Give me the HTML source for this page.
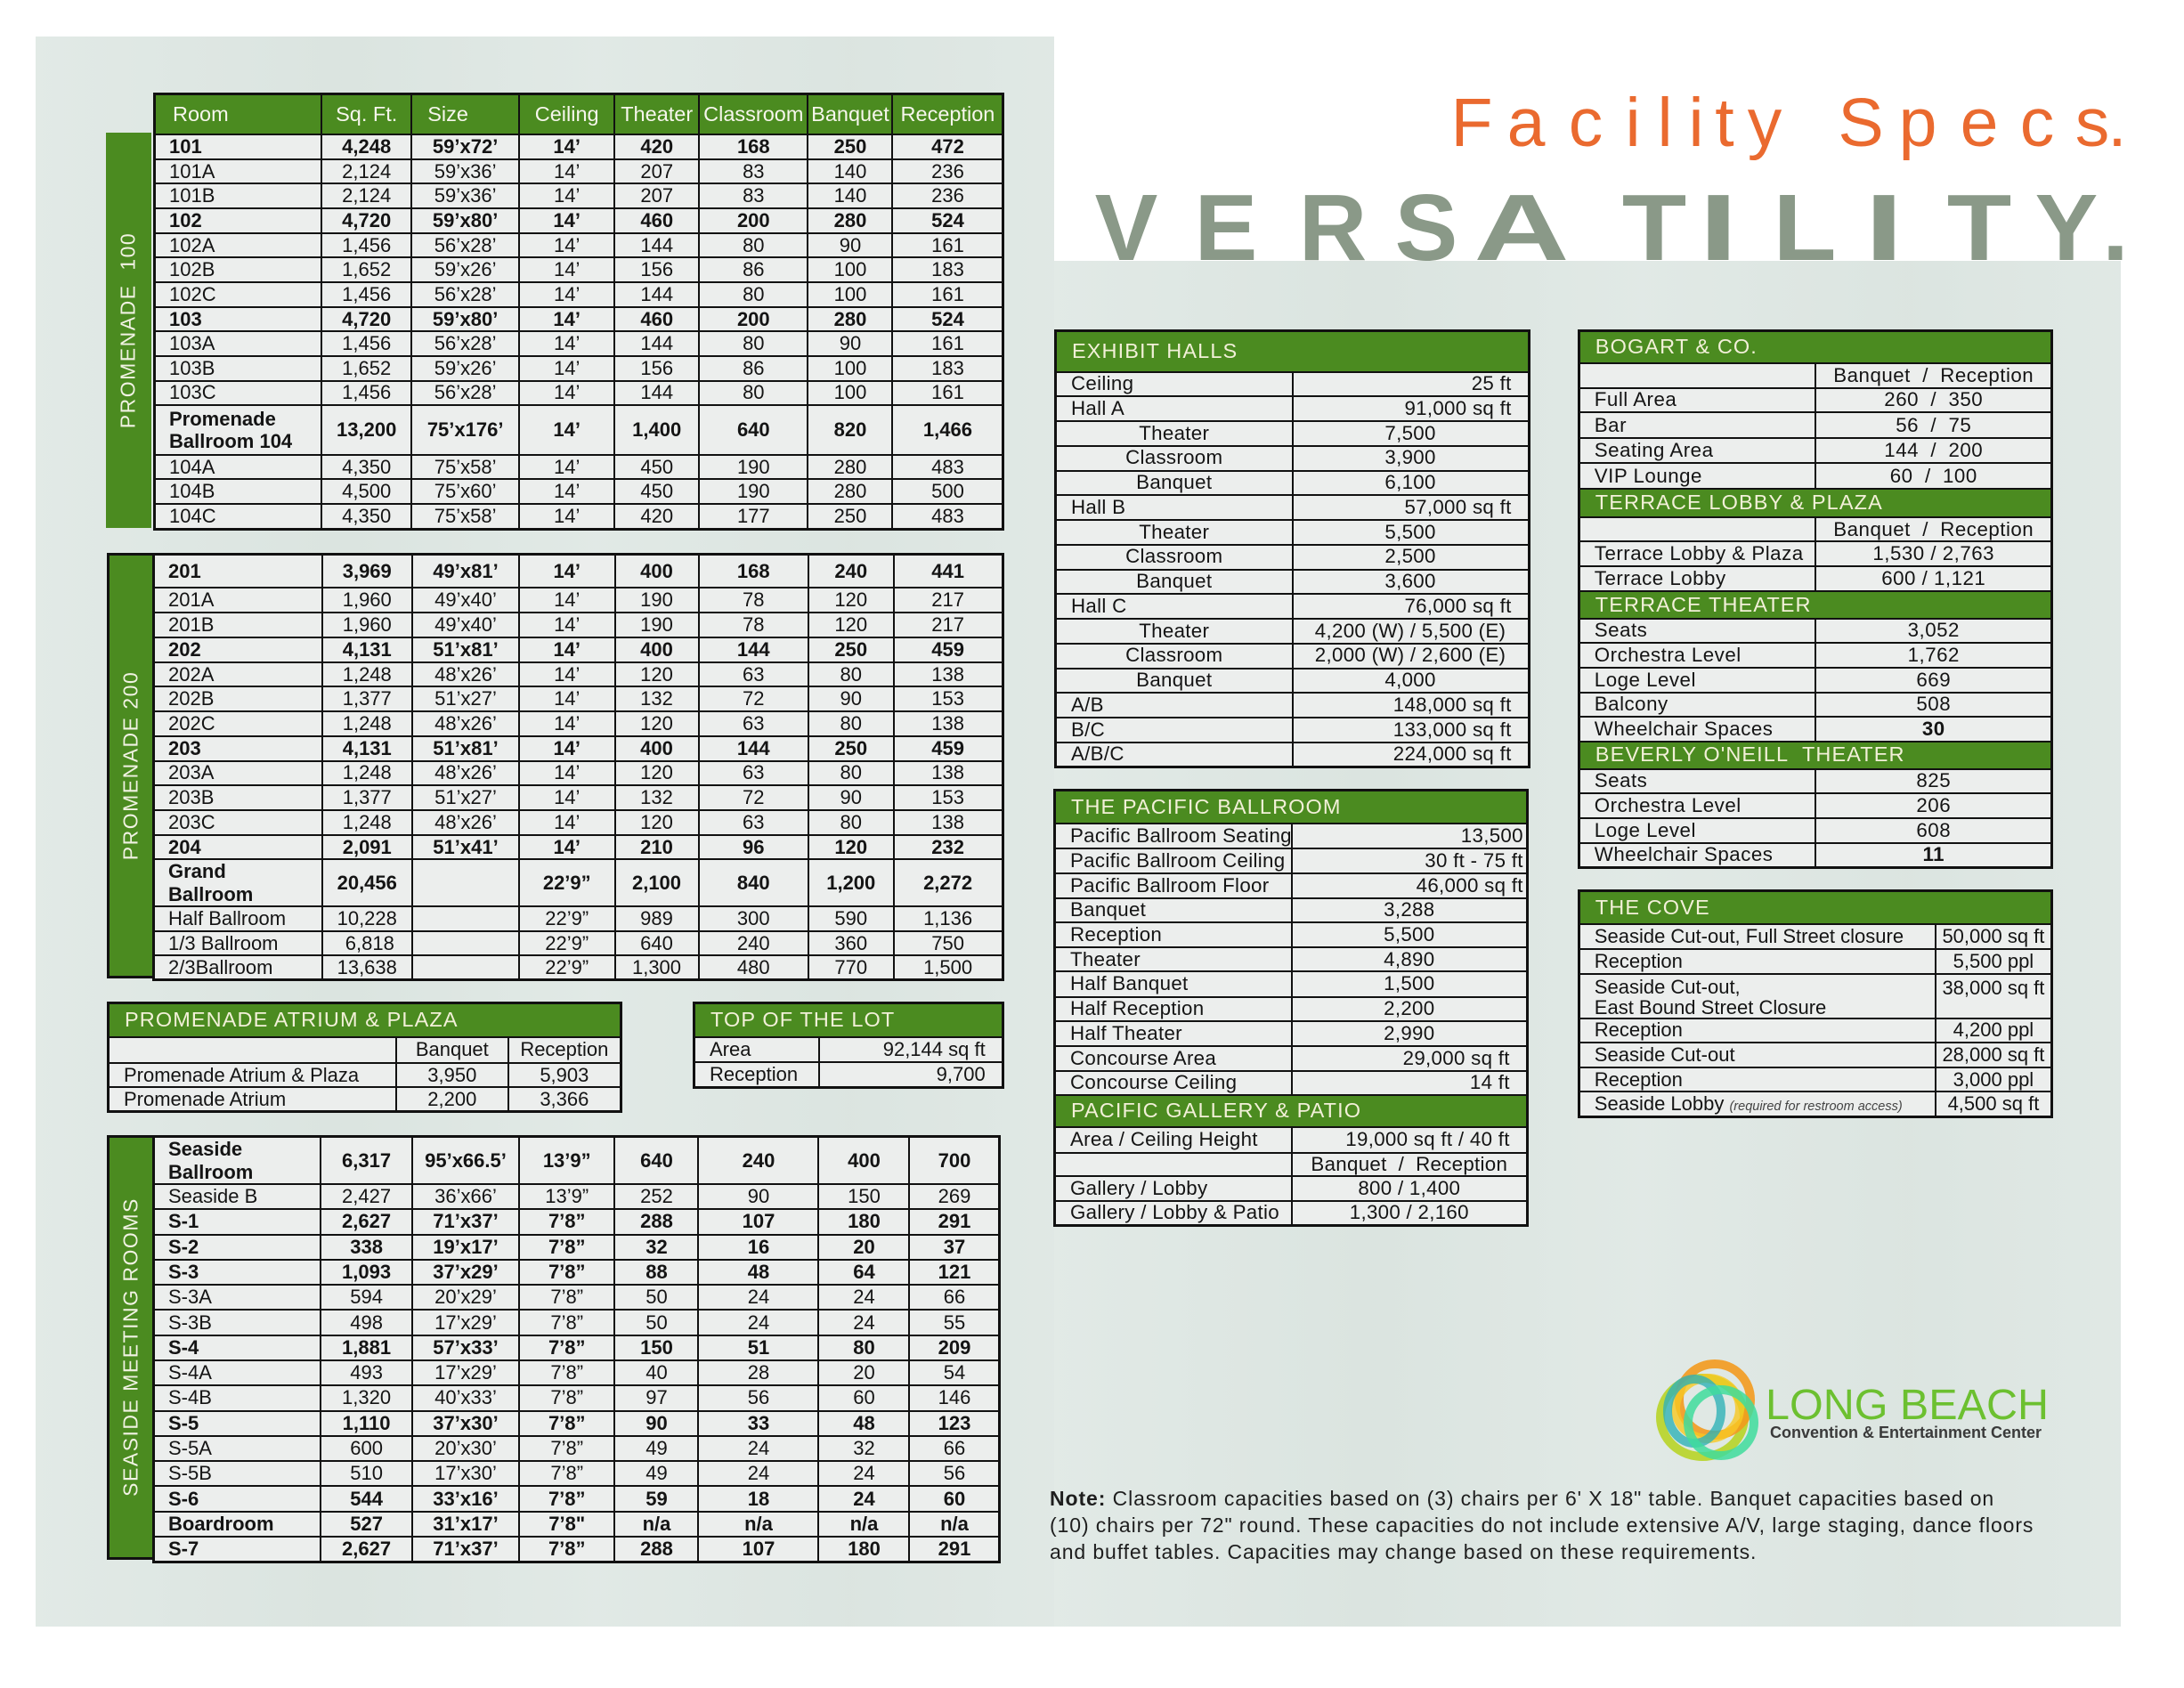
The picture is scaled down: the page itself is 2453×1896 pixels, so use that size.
<!DOCTYPE html>
<html><head><meta charset="utf-8">
<style>
html,body{margin:0;padding:0;}
body{width:2453px;height:1896px;position:relative;overflow:hidden;background:#ffffff;font-family:"Liberation Sans",Arial,sans-serif;}
.pA{position:absolute;left:40px;top:41px;width:1144px;height:1786px;background:#dee7e3;}
.pB{position:absolute;left:1184px;top:293px;width:1198px;height:1534px;background:#dee7e3;}
.tex{position:absolute;background:linear-gradient(90deg,rgba(255,255,255,0.18),rgba(200,212,206,0.25) 30%,rgba(255,255,255,0.15) 55%,rgba(205,215,210,0.25) 80%,rgba(255,255,255,0.1));}
.ch{position:absolute;line-height:1;white-space:pre;display:inline-block;transform:translateX(-50%);}
.fs{font-size:77px;color:#ea6a2f;top:99.8px;}
.vs{font-size:106px;color:#8a9988;font-weight:bold;top:203.3px;}
table.t{position:absolute;border-collapse:collapse;table-layout:fixed;color:#141414;border:3px solid #111;font-family:"Liberation Sans",Arial,sans-serif;}
table.t td{border:2px solid #111;background:#eceeed;padding:0;white-space:nowrap;overflow:hidden;text-align:center;line-height:1;}
table.t td.l{text-align:left;padding-left:15px;}
table.t td.r{text-align:right;padding-right:18px;}
table.t td.r2{text-align:right;padding-right:3px;}
table.t tr.h td{background:#4b8b20;color:#f2f0d8;}
table.L{font-size:22px;}
table.L tr.b td{font-weight:bold;}
table.L tr.hh td{font-size:23.5px;color:#f6f6ec;}
table.R{font-size:22.3px;letter-spacing:0.3px;}
table.R td.l{padding-left:16px;}
table.R tr.h td{font-size:23.5px;letter-spacing:1.1px;text-align:left;padding-left:17px;}
table.C{font-size:22px;}
table.C td.l{padding-left:16px;}
table.C tr.h td{font-size:23.5px;letter-spacing:1.1px;text-align:left;padding-left:17px;}
.bar{position:absolute;background:#4b8b20;}
.bar span{position:absolute;left:50%;top:50%;transform:translate(-50%,-50%) rotate(-90deg);color:#f0f2e2;font-size:23px;letter-spacing:1.5px;white-space:pre;line-height:1;}
.two{line-height:25.5px !important;}
</style></head><body>

<div class="pA"></div>
<div class="pB"></div>
<div class="tex" style="left:40px;top:41px;width:1144px;height:1786px;opacity:0.6"></div>
<div class="tex" style="left:1184px;top:293px;width:1198px;height:1534px;opacity:0.6"></div>

<!-- Title -->
<span class="ch fs" style="left:1653px">F</span>
<span class="ch fs" style="left:1714px">a</span>
<span class="ch fs" style="left:1781px">c</span>
<span class="ch fs" style="left:1834px">i</span>
<span class="ch fs" style="left:1870px">l</span>
<span class="ch fs" style="left:1905px">i</span>
<span class="ch fs" style="left:1937px">t</span>
<span class="ch fs" style="left:1982px">y</span>
<span class="ch fs" style="left:2090px">S</span>
<span class="ch fs" style="left:2154px">p</span>
<span class="ch fs" style="left:2223px">e</span>
<span class="ch fs" style="left:2288px">c</span>
<span class="ch fs" style="left:2350px">s</span>
<span class="ch fs" style="left:2378px">.</span>

<span class="ch vs" style="left:1265px">V</span>
<span class="ch vs" style="left:1377px">E</span>
<span class="ch vs" style="left:1497px">R</span>
<span class="ch vs" style="left:1602px">S</span>
<span class="ch vs" style="left:1709px;transform:translateX(-50%) scaleX(1.4)">A</span>
<span class="ch vs" style="left:1858px;transform:translateX(-50%) scaleX(1.12)">T</span>
<span class="ch vs" style="left:1930px;transform:translateX(-50%) scaleX(1.5)">I</span>
<span class="ch vs" style="left:2027px;transform:translateX(-50%) scaleX(1.1)">L</span>
<span class="ch vs" style="left:2116px;transform:translateX(-50%) scaleX(1.5)">I</span>
<span class="ch vs" style="left:2223px;transform:translateX(-50%) scaleX(1.12)">T</span>
<span class="ch vs" style="left:2321px">Y</span>
<span class="ch vs" style="left:2376px">.</span>

<!-- PROMENADE 100 -->
<div class="bar" style="left:118.6px;top:148.7px;width:51.4px;height:444.3px"><span>PROMENADE  100</span></div>
<table class="t L" style="left:172px;top:103.6px;width:953.5px">
<colgroup><col style="width:187.7px"><col style="width:101px"><col style="width:120.9px"><col style="width:107.2px"><col style="width:94.9px"><col style="width:122.3px"><col style="width:95px"><col style="width:124.5px"></colgroup>
<tr class="h hh" style="height:46px"><td class="l" style="padding-left:19px">Room</td><td>Sq. Ft.</td><td class="l" style="padding-left:17px">Size</td><td>Ceiling</td><td>Theater</td><td>Classroom</td><td>Banquet</td><td>Reception</td></tr>
<tr class="b" style="height:27.67px"><td class="l">101</td><td>4,248</td><td>59’x72’</td><td>14’</td><td>420</td><td>168</td><td>250</td><td>472</td></tr>
<tr style="height:27.67px"><td class="l">101A</td><td>2,124</td><td>59’x36’</td><td>14’</td><td>207</td><td>83</td><td>140</td><td>236</td></tr>
<tr style="height:27.67px"><td class="l">101B</td><td>2,124</td><td>59’x36’</td><td>14’</td><td>207</td><td>83</td><td>140</td><td>236</td></tr>
<tr class="b" style="height:27.67px"><td class="l">102</td><td>4,720</td><td>59’x80’</td><td>14’</td><td>460</td><td>200</td><td>280</td><td>524</td></tr>
<tr style="height:27.67px"><td class="l">102A</td><td>1,456</td><td>56’x28’</td><td>14’</td><td>144</td><td>80</td><td>90</td><td>161</td></tr>
<tr style="height:27.67px"><td class="l">102B</td><td>1,652</td><td>59’x26’</td><td>14’</td><td>156</td><td>86</td><td>100</td><td>183</td></tr>
<tr style="height:27.67px"><td class="l">102C</td><td>1,456</td><td>56’x28’</td><td>14’</td><td>144</td><td>80</td><td>100</td><td>161</td></tr>
<tr class="b" style="height:27.67px"><td class="l">103</td><td>4,720</td><td>59’x80’</td><td>14’</td><td>460</td><td>200</td><td>280</td><td>524</td></tr>
<tr style="height:27.67px"><td class="l">103A</td><td>1,456</td><td>56’x28’</td><td>14’</td><td>144</td><td>80</td><td>90</td><td>161</td></tr>
<tr style="height:27.67px"><td class="l">103B</td><td>1,652</td><td>59’x26’</td><td>14’</td><td>156</td><td>86</td><td>100</td><td>183</td></tr>
<tr style="height:27.67px"><td class="l">103C</td><td>1,456</td><td>56’x28’</td><td>14’</td><td>144</td><td>80</td><td>100</td><td>161</td></tr>
<tr class="b" style="height:55.4px"><td class="l two">Promenade<br>Ballroom 104</td><td>13,200</td><td>75’x176’</td><td>14’</td><td>1,400</td><td>640</td><td>820</td><td>1,466</td></tr>
<tr style="height:27.7px"><td class="l">104A</td><td>4,350</td><td>75’x58’</td><td>14’</td><td>450</td><td>190</td><td>280</td><td>483</td></tr>
<tr style="height:27.6px"><td class="l">104B</td><td>4,500</td><td>75’x60’</td><td>14’</td><td>450</td><td>190</td><td>280</td><td>500</td></tr>
<tr style="height:28.4px"><td class="l">104C</td><td>4,350</td><td>75’x58’</td><td>14’</td><td>420</td><td>177</td><td>250</td><td>483</td></tr>
</table>

<!-- PROMENADE 200 -->
<div class="bar" style="left:120px;top:620.7px;width:51px;height:478.3px;border-top:3px solid #111;border-bottom:3px solid #111;border-left:3px solid #111;box-sizing:border-box"><span>PROMENADE 200</span></div>
<table class="t L" style="left:171px;top:620.7px;width:953.7px">
<colgroup><col style="width:189px"><col style="width:101.5px"><col style="width:120px"><col style="width:107.5px"><col style="width:94px"><col style="width:123.5px"><col style="width:95.5px"><col style="width:122.7px"></colgroup>
<tr class="b" style="height:38.3px"><td class="l">201</td><td>3,969</td><td>49’x81’</td><td>14’</td><td>400</td><td>168</td><td>240</td><td>441</td></tr>
<tr style="height:27.73px"><td class="l">201A</td><td>1,960</td><td>49’x40’</td><td>14’</td><td>190</td><td>78</td><td>120</td><td>217</td></tr>
<tr style="height:27.73px"><td class="l">201B</td><td>1,960</td><td>49’x40’</td><td>14’</td><td>190</td><td>78</td><td>120</td><td>217</td></tr>
<tr class="b" style="height:27.73px"><td class="l">202</td><td>4,131</td><td>51’x81’</td><td>14’</td><td>400</td><td>144</td><td>250</td><td>459</td></tr>
<tr style="height:27.73px"><td class="l">202A</td><td>1,248</td><td>48’x26’</td><td>14’</td><td>120</td><td>63</td><td>80</td><td>138</td></tr>
<tr style="height:27.73px"><td class="l">202B</td><td>1,377</td><td>51’x27’</td><td>14’</td><td>132</td><td>72</td><td>90</td><td>153</td></tr>
<tr style="height:27.73px"><td class="l">202C</td><td>1,248</td><td>48’x26’</td><td>14’</td><td>120</td><td>63</td><td>80</td><td>138</td></tr>
<tr class="b" style="height:27.73px"><td class="l">203</td><td>4,131</td><td>51’x81’</td><td>14’</td><td>400</td><td>144</td><td>250</td><td>459</td></tr>
<tr style="height:27.73px"><td class="l">203A</td><td>1,248</td><td>48’x26’</td><td>14’</td><td>120</td><td>63</td><td>80</td><td>138</td></tr>
<tr style="height:27.73px"><td class="l">203B</td><td>1,377</td><td>51’x27’</td><td>14’</td><td>132</td><td>72</td><td>90</td><td>153</td></tr>
<tr style="height:27.73px"><td class="l">203C</td><td>1,248</td><td>48’x26’</td><td>14’</td><td>120</td><td>63</td><td>80</td><td>138</td></tr>
<tr class="b" style="height:27.73px"><td class="l">204</td><td>2,091</td><td>51’x41’</td><td>14’</td><td>210</td><td>96</td><td>120</td><td>232</td></tr>
<tr class="b" style="height:52.7px"><td class="l two">Grand<br>Ballroom</td><td>20,456</td><td>&nbsp;</td><td>22’9”</td><td>2,100</td><td>840</td><td>1,200</td><td>2,272</td></tr>
<tr style="height:27.6px"><td class="l">Half Ballroom</td><td>10,228</td><td>&nbsp;</td><td>22’9”</td><td>989</td><td>300</td><td>590</td><td>1,136</td></tr>
<tr style="height:27.4px"><td class="l">1/3 Ballroom</td><td>&nbsp;6,818</td><td>&nbsp;</td><td>22’9”</td><td>640</td><td>240</td><td>360</td><td>750</td></tr>
<tr style="height:27.3px"><td class="l">2/3Ballroom</td><td>13,638</td><td>&nbsp;</td><td>22’9”</td><td>1,300</td><td>480</td><td>770</td><td>1,500</td></tr>
</table>

<!-- PROMENADE ATRIUM -->
<table class="t C" style="left:120px;top:1125px;width:575.6px">
<colgroup><col style="width:323px"><col style="width:126.6px"><col style="width:126px"></colgroup>
<tr class="h" style="height:38.3px"><td colspan="3">PROMENADE ATRIUM &amp; PLAZA</td></tr>
<tr style="height:29px"><td>&nbsp;</td><td>Banquet</td><td>Reception</td></tr>
<tr style="height:27.7px"><td class="l">Promenade Atrium &amp; Plaza</td><td>3,950</td><td>5,903</td></tr>
<tr style="height:27.3px"><td class="l">Promenade Atrium</td><td>2,200</td><td>3,366</td></tr>
</table>

<!-- TOP OF THE LOT -->
<table class="t C" style="left:778px;top:1125px;width:346.7px">
<colgroup><col style="width:140px"><col style="width:206.7px"></colgroup>
<tr class="h" style="height:38.3px"><td colspan="2">TOP OF THE LOT</td></tr>
<tr style="height:28.7px"><td class="l">Area</td><td class="r">92,144 sq ft</td></tr>
<tr style="height:28px"><td class="l">Reception</td><td class="r">9,700</td></tr>
</table>

<!-- SEASIDE -->
<div class="bar" style="left:120px;top:1275px;width:51px;height:476.7px;border-top:3px solid #111;border-bottom:3px solid #111;border-left:3px solid #111;box-sizing:border-box"><span>SEASIDE MEETING ROOMS</span></div>
<table class="t L" style="left:171px;top:1275px;width:950.5px">
<colgroup><col style="width:187.7px"><col style="width:102.8px"><col style="width:120px"><col style="width:107.5px"><col style="width:94px"><col style="width:135px"><col style="width:102px"><col style="width:101.5px"></colgroup>
<tr class="b" style="height:52.3px"><td class="l two">Seaside<br>Ballroom</td><td>6,317</td><td>95’x66.5’</td><td>13’9”</td><td>640</td><td>240</td><td>400</td><td>700</td></tr>
<tr style="height:28.29px"><td class="l">Seaside B</td><td>2,427</td><td>36’x66’</td><td>13’9”</td><td>252</td><td>90</td><td>150</td><td>269</td></tr>
<tr class="b" style="height:28.29px"><td class="l">S-1</td><td>2,627</td><td>71’x37’</td><td>7’8”</td><td>288</td><td>107</td><td>180</td><td>291</td></tr>
<tr class="b" style="height:28.29px"><td class="l">S-2</td><td>338</td><td>19’x17’</td><td>7’8”</td><td>32</td><td>16</td><td>20</td><td>37</td></tr>
<tr class="b" style="height:28.29px"><td class="l">S-3</td><td>1,093</td><td>37’x29’</td><td>7’8”</td><td>88</td><td>48</td><td>64</td><td>121</td></tr>
<tr style="height:28.29px"><td class="l">S-3A</td><td>594</td><td>20’x29’</td><td>7’8”</td><td>50</td><td>24</td><td>24</td><td>66</td></tr>
<tr style="height:28.29px"><td class="l">S-3B</td><td>498</td><td>17’x29’</td><td>7’8”</td><td>50</td><td>24</td><td>24</td><td>55</td></tr>
<tr class="b" style="height:28.29px"><td class="l">S-4</td><td>1,881</td><td>57’x33’</td><td>7’8”</td><td>150</td><td>51</td><td>80</td><td>209</td></tr>
<tr style="height:28.29px"><td class="l">S-4A</td><td>493</td><td>17’x29’</td><td>7’8”</td><td>40</td><td>28</td><td>20</td><td>54</td></tr>
<tr style="height:28.29px"><td class="l">S-4B</td><td>1,320</td><td>40’x33’</td><td>7’8”</td><td>97</td><td>56</td><td>60</td><td>146</td></tr>
<tr class="b" style="height:28.29px"><td class="l">S-5</td><td>1,110</td><td>37’x30’</td><td>7’8”</td><td>90</td><td>33</td><td>48</td><td>123</td></tr>
<tr style="height:28.29px"><td class="l">S-5A</td><td>600</td><td>20’x30’</td><td>7’8”</td><td>49</td><td>24</td><td>32</td><td>66</td></tr>
<tr style="height:28.29px"><td class="l">S-5B</td><td>510</td><td>17’x30’</td><td>7’8”</td><td>49</td><td>24</td><td>24</td><td>56</td></tr>
<tr class="b" style="height:28.29px"><td class="l">S-6</td><td>544</td><td>33’x16’</td><td>7’8”</td><td>59</td><td>18</td><td>24</td><td>60</td></tr>
<tr class="b" style="height:28.29px"><td class="l">Boardroom</td><td>527</td><td>31’x17’</td><td>7’8"</td><td>n/a</td><td>n/a</td><td>n/a</td><td>n/a</td></tr>
<tr class="b" style="height:28.29px"><td class="l">S-7</td><td>2,627</td><td>71’x37’</td><td>7’8”</td><td>288</td><td>107</td><td>180</td><td>291</td></tr>
</table>

<!-- EXHIBIT HALLS -->
<table class="t R" style="left:1184px;top:370px;width:531.6px">
<colgroup><col style="width:266px"><col style="width:265.6px"></colgroup>
<tr class="h" style="height:46px"><td colspan="2">EXHIBIT HALLS</td></tr>
<tr style="height:27.75px"><td class="l">Ceiling</td><td class="r">25 ft</td></tr>
<tr style="height:27.75px"><td class="l">Hall A</td><td class="r">91,000 sq ft</td></tr>
<tr style="height:27.75px"><td>Theater</td><td>7,500</td></tr>
<tr style="height:27.75px"><td>Classroom</td><td>3,900</td></tr>
<tr style="height:27.75px"><td>Banquet</td><td>6,100</td></tr>
<tr style="height:27.75px"><td class="l">Hall B</td><td class="r">57,000 sq ft</td></tr>
<tr style="height:27.75px"><td>Theater</td><td>5,500</td></tr>
<tr style="height:27.75px"><td>Classroom</td><td>2,500</td></tr>
<tr style="height:27.75px"><td>Banquet</td><td>3,600</td></tr>
<tr style="height:27.75px"><td class="l">Hall C</td><td class="r">76,000 sq ft</td></tr>
<tr style="height:27.75px"><td>Theater</td><td>4,200 (W) / 5,500 (E)</td></tr>
<tr style="height:27.75px"><td>Classroom</td><td>2,000 (W) / 2,600 (E)</td></tr>
<tr style="height:27.75px"><td>Banquet</td><td>4,000</td></tr>
<tr style="height:27.75px"><td class="l">A/B</td><td class="r">148,000 sq ft</td></tr>
<tr style="height:27.75px"><td class="l">B/C</td><td class="r">133,000 sq ft</td></tr>
<tr style="height:27.75px"><td class="l">A/B/C</td><td class="r">224,000 sq ft</td></tr>
</table>

<!-- PACIFIC BALLROOM -->
<table class="t R" style="left:1183px;top:886px;width:530.8px">
<colgroup><col style="width:266.3px"><col style="width:264.5px"></colgroup>
<tr class="h" style="height:37.3px"><td colspan="2">THE PACIFIC BALLROOM</td></tr>
<tr style="height:28.4px"><td class="l">Pacific Ballroom Seating</td><td class="r2">13,500</td></tr>
<tr style="height:28.3px"><td class="l">Pacific Ballroom Ceiling</td><td class="r2">30 ft - 75 ft</td></tr>
<tr style="height:27.3px"><td class="l">Pacific Ballroom Floor</td><td class="r2">46,000 sq ft</td></tr>
<tr style="height:27.7px"><td class="l">Banquet</td><td>3,288</td></tr>
<tr style="height:27.7px"><td class="l">Reception</td><td>5,500</td></tr>
<tr style="height:27.3px"><td class="l">Theater</td><td>4,890</td></tr>
<tr style="height:28.3px"><td class="l">Half Banquet</td><td>1,500</td></tr>
<tr style="height:27.7px"><td class="l">Half Reception</td><td>2,200</td></tr>
<tr style="height:27.3px"><td class="l">Half Theater</td><td>2,990</td></tr>
<tr style="height:28.4px"><td class="l">Concourse Area</td><td class="r">29,000 sq ft</td></tr>
<tr style="height:26.6px"><td class="l">Concourse Ceiling</td><td class="r">14 ft</td></tr>
<tr class="h" style="height:36.7px"><td colspan="2">PACIFIC GALLERY &amp; PATIO</td></tr>
<tr style="height:28.3px"><td class="l">Area / Ceiling Height</td><td class="r">19,000 sq ft / 40 ft</td></tr>
<tr style="height:26.7px"><td>&nbsp;</td><td>Banquet&nbsp; /&nbsp; Reception</td></tr>
<tr style="height:27.3px"><td class="l">Gallery / Lobby</td><td>800 / 1,400</td></tr>
<tr style="height:27.7px"><td class="l">Gallery / Lobby &amp; Patio</td><td>1,300 / 2,160</td></tr>
</table>

<!-- BOGART / TERRACE / BEVERLY -->
<table class="t R" style="left:1771.8px;top:369.9px;width:531.2px;letter-spacing:0.5px">
<colgroup><col style="width:266.2px"><col style="width:265px"></colgroup>
<tr class="h" style="height:36.8px"><td colspan="2">BOGART &amp; CO.</td></tr>
<tr style="height:27.6px"><td>&nbsp;</td><td>Banquet&nbsp; /&nbsp; Reception</td></tr>
<tr style="height:27.7px"><td class="l">Full Area</td><td>260&nbsp; /&nbsp; 350</td></tr>
<tr style="height:28.5px"><td class="l">Bar</td><td>56&nbsp; /&nbsp; 75</td></tr>
<tr style="height:28.5px"><td class="l">Seating Area</td><td>144&nbsp; /&nbsp; 200</td></tr>
<tr style="height:28.8px"><td class="l">VIP Lounge</td><td>60&nbsp; /&nbsp; 100</td></tr>
<tr class="h" style="height:31.7px"><td colspan="2">TERRACE LOBBY &amp; PLAZA</td></tr>
<tr style="height:27.5px"><td>&nbsp;</td><td>Banquet&nbsp; /&nbsp; Reception</td></tr>
<tr style="height:27.8px"><td class="l">Terrace Lobby &amp; Plaza</td><td>1,530 / 2,763</td></tr>
<tr style="height:27.7px"><td class="l">Terrace Lobby</td><td>600 / 1,121</td></tr>
<tr class="h" style="height:30.8px"><td colspan="2">TERRACE THEATER</td></tr>
<tr style="height:27.7px"><td class="l">Seats</td><td>3,052</td></tr>
<tr style="height:27.7px"><td class="l">Orchestra Level</td><td>1,762</td></tr>
<tr style="height:27.7px"><td class="l">Loge Level</td><td>669</td></tr>
<tr style="height:27.7px"><td class="l">Balcony</td><td>508</td></tr>
<tr style="height:27.3px"><td class="l">Wheelchair Spaces</td><td style="font-weight:bold">30</td></tr>
<tr class="h" style="height:30.9px"><td colspan="2">BEVERLY O'NEILL&nbsp; THEATER</td></tr>
<tr style="height:27.7px"><td class="l">Seats</td><td>825</td></tr>
<tr style="height:27.6px"><td class="l">Orchestra Level</td><td>206</td></tr>
<tr style="height:27.7px"><td class="l">Loge Level</td><td>608</td></tr>
<tr style="height:27.8px"><td class="l">Wheelchair Spaces</td><td style="font-weight:bold">11</td></tr>
</table>

<!-- THE COVE -->
<table class="t C" style="left:1771.8px;top:999.3px;width:531.2px">
<colgroup><col style="width:400.6px"><col style="width:130.6px"></colgroup>
<tr class="h" style="height:37.4px"><td colspan="2">THE COVE</td></tr>
<tr style="height:28.3px"><td class="l">Seaside Cut-out, Full Street closure</td><td>50,000 sq ft</td></tr>
<tr style="height:27.7px"><td class="l">Reception</td><td>5,500 ppl</td></tr>
<tr style="height:50px"><td class="l" style="line-height:23px;vertical-align:top;padding-top:2px">Seaside Cut-out,<br>East Bound Street Closure</td><td style="vertical-align:top;padding-top:4px">38,000 sq ft</td></tr>
<tr style="height:26.6px"><td class="l">Reception</td><td>4,200 ppl</td></tr>
<tr style="height:28px"><td class="l">Seaside Cut-out</td><td>28,000 sq ft</td></tr>
<tr style="height:27.7px"><td class="l">Reception</td><td>3,000 ppl</td></tr>
<tr style="height:28.3px"><td class="l">Seaside Lobby <i style="font-size:14.5px;color:#444">(required for restroom access)</i></td><td>4,500 sq ft</td></tr>
</table>

<!-- LOGO -->
<svg style="position:absolute;left:1850px;top:1515px" width="135" height="135" viewBox="1850 1515 135 135">
<g fill="none" stroke-width="10">
<ellipse cx="1912" cy="1592" rx="47" ry="44" stroke="#b5d21c" opacity="0.85"/>
<ellipse cx="1926" cy="1572" rx="40" ry="40" stroke="#f39a1e" opacity="0.9"/>
<ellipse cx="1918" cy="1582" rx="36" ry="34" stroke="#f7c822" opacity="0.8"/>
<ellipse cx="1903" cy="1585" rx="30" ry="36" stroke="#2fb2b6" opacity="0.8"/>
<ellipse cx="1933" cy="1598" rx="37" ry="37" stroke="#3fdc9c" opacity="0.85"/>
</g></svg>
<div style="position:absolute;left:1983px;top:1554px;font-size:48.5px;line-height:1;color:#6cc030;white-space:nowrap">LONG BEACH</div>
<div style="position:absolute;left:1988px;top:1599.8px;font-size:18px;line-height:1;color:#3a3a3a;font-weight:bold;white-space:nowrap">Convention &amp; Entertainment Center</div>

<!-- NOTE -->
<div style="position:absolute;left:1179px;top:1669.2px;font-size:23px;line-height:29.7px;color:#1e1e1e;white-space:nowrap;letter-spacing:0.9px"><b>Note:</b> Classroom capacities based on (3) chairs per 6' X 18" table. Banquet capacities based on<br>(10) chairs per 72" round. These capacities do not include extensive A/V, large staging, dance floors<br>and buffet tables. Capacities may change based on these requirements.</div>

</body></html>
